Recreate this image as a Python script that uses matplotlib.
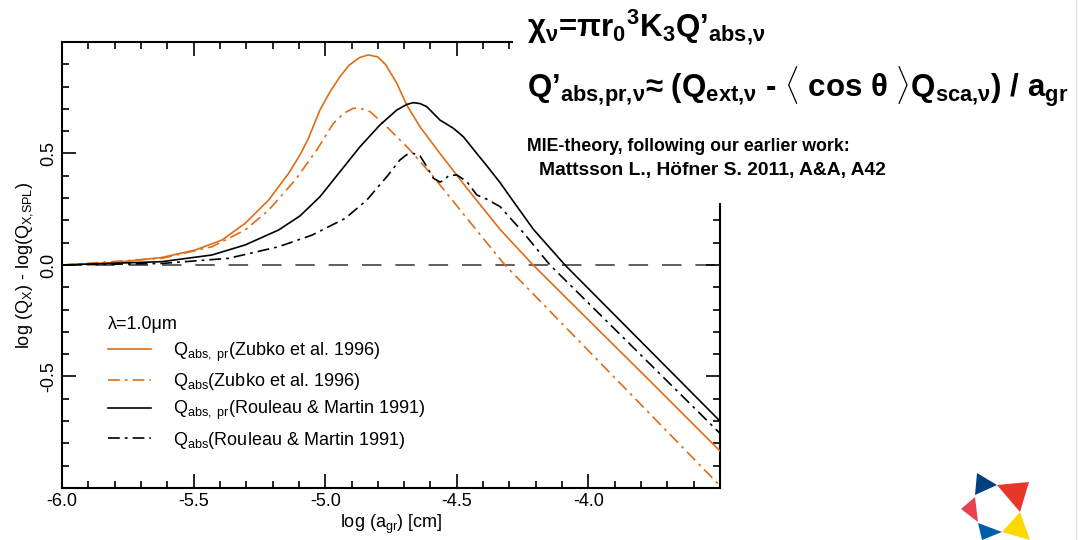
import matplotlib

matplotlib.use("Agg")
import matplotlib.pyplot as plt
from matplotlib.lines import Line2D
from matplotlib.patches import Polygon, Rectangle
from matplotlib.ticker import MultipleLocator

plt.rcParams.update({
    "font.family": ["Liberation Sans", "DejaVu Sans"],
    "mathtext.fontset": "custom",
    "mathtext.rm": "Liberation Sans",
    "mathtext.it": "Liberation Sans",
    "mathtext.bf": "Liberation Sans:bold",
    "axes.unicode_minus": False,
    "lines.scale_dashes": False,
})

# log(a_gr) [cm] vs log(Q_X) - log(Q_X,SPL)
x_zubko_pr = [-6.0, -5.81, -5.62, -5.494, -5.392, -5.304, -5.215, -5.139, -5.096,
              -5.063, -5.020, -4.980, -4.944, -4.91, -4.87, -4.836, -4.80, -4.77,
              -4.728, -4.690, -4.640, -4.564, -4.462, -4.336, -4.21, -4.032, -3.778, -3.5]
y_zubko_pr = [0.0, 0.01, 0.034, 0.067, 0.112, 0.187, 0.291, 0.411, 0.493,
              0.57, 0.695, 0.78, 0.844, 0.895, 0.93, 0.942, 0.933, 0.898,
              0.815, 0.717, 0.620, 0.50, 0.345, 0.16, 0.0, -0.209, -0.506, -0.834]

x_zubko_abs = [-6.0, -5.62, -5.43, -5.304, -5.215, -5.114, -5.032, -4.969, -4.93,
               -4.893, -4.86, -4.830, -4.766, -4.678, -4.589, -4.462, -4.40, -4.317,
               -3.5]
y_zubko_abs = [0.0, 0.03, 0.082, 0.157, 0.246, 0.381, 0.516, 0.635, 0.68,
               0.703, 0.70, 0.688, 0.620, 0.516, 0.396, 0.21, 0.12, 0.0,
               -0.99]

x_rm_pr = [-6.0, -5.62, -5.43, -5.304, -5.177, -5.096, -5.02, -4.944, -4.868,
           -4.792, -4.728, -4.69, -4.665, -4.64, -4.614, -4.564, -4.513, -4.475,
           -4.424, -4.386, -4.336, -4.285, -4.209, -4.089, -3.5]
y_rm_pr = [0.0, 0.015, 0.045, 0.09, 0.157, 0.22, 0.306, 0.418, 0.530,
           0.628, 0.695, 0.72, 0.728, 0.724, 0.71, 0.65, 0.613, 0.575,
           0.50, 0.445, 0.37, 0.285, 0.16, 0.0, -0.70]

x_rm_abs = [-6.0, -5.62, -5.367, -5.177, -5.05, -4.924, -4.842, -4.766, -4.716,
            -4.69, -4.665, -4.64, -4.614, -4.589, -4.564, -4.548, -4.532, -4.50,
            -4.462, -4.424, -4.386, -4.336, -4.247, -4.146, -3.5]
y_rm_abs = [0.0, 0.007, 0.03, 0.082, 0.134, 0.209, 0.291, 0.396, 0.471,
            0.495, 0.50, 0.49, 0.441, 0.389, 0.372, 0.38, 0.40, 0.404,
            0.374, 0.314, 0.295, 0.262, 0.145, 0.0, -0.755]

labels = [
    r"Q$_\mathrm{abs,\ pr}$(Zubko et al. 1996)",
    r"Q$_\mathrm{abs}$(Zubko et al. 1996)",
    r"Q$_\mathrm{abs,\ pr}$(Rouleau & Martin 1991)",
    r"Q$_\mathrm{abs}$(Rouleau & Martin 1991)",
]
xtick_vals = [-6.0, -5.5, -5.0, -4.5, -4.0]
ytick_vals = [-0.5, 0.0, 0.5]

ORANGE = "#DF6D16"
DASHDOT = (8.5, 3.6, 2.0, 3.6)
W, H = 1078, 540

fig = plt.figure(figsize=(W / 100, H / 100), dpi=100)
ax = fig.add_axes([62 / W, 1 - 488 / H, 658 / W, 446 / H])

ax.axhline(0.0, color="#333333", lw=1.1, dashes=(14, 10), zorder=1)
ax.plot(x_zubko_pr, y_zubko_pr, color=ORANGE, lw=1.2, label=labels[0], zorder=4)
ax.plot(x_zubko_abs, y_zubko_abs, color=ORANGE, lw=1.2, dashes=DASHDOT,
        label=labels[1], zorder=4)
ax.plot(x_rm_pr, y_rm_pr, color="black", lw=1.2, label=labels[2], zorder=4)
ax.plot(x_rm_abs, y_rm_abs, color="black", lw=1.2, dashes=DASHDOT,
        label=labels[3], zorder=4)

ax.set_xlim(-6.0, -3.5)
ax.set_ylim(-1.0, 1.0)
ax.set_xticks(xtick_vals)
ax.set_xticklabels([f"{v:.1f}" for v in xtick_vals])
ax.set_yticks(ytick_vals)
ax.set_yticklabels([f"{v:.1f}" for v in ytick_vals])
ax.xaxis.set_minor_locator(MultipleLocator(0.1))
ax.yaxis.set_minor_locator(MultipleLocator(0.1))
ax.tick_params(which="both", direction="in", top=True, right=True, width=1.2,
               labelsize=13)
ax.tick_params(which="major", length=10)
ax.tick_params(which="minor", length=5)
ax.tick_params(axis="y", labelrotation=90)
for lbl in ax.get_yticklabels():
    lbl.set_va("center")
for sp in ax.spines.values():
    sp.set_linewidth(1.5)

ax.set_xlabel(r"log (a$_\mathrm{gr}$) [cm]", fontsize=13, labelpad=2)
ax.set_ylabel(r"log (Q$_\mathrm{X}$) - log(Q$_\mathrm{X{,}SPL}$)", fontsize=13,
              labelpad=4)

ax.legend(loc="upper left", bbox_to_anchor=(0.07, 0.385), frameon=False,
          title="λ=1.0μm", alignment="left", fontsize=13, title_fontsize=13,
          handlelength=2.4, handletextpad=1.2, labelspacing=0.4,
          borderpad=0, borderaxespad=0)

# white panel over the top-right corner of the frame, behind the curves
ax.add_patch(Rectangle((513 / W, 1 - 203 / H), 1 - 513 / W, 203 / H,
                       transform=fig.transFigure, facecolor="white",
                       edgecolor="none", zorder=3, clip_on=False))

fig.text(527 / W, 1 - 27 / H,
         r"χ$_\mathbf{ν}$=πr$_\mathbf{0}$$^\mathbf{3}$K$_\mathbf{3}$Q’$_\mathbf{abs{,}ν}$",
         fontsize=22.5, fontweight="bold", va="center", ha="left")
fig.text(527 / W, 1 - 87 / H,
         r"Q’$_\mathbf{abs{,}pr{,}ν}$≈ (Q$_\mathbf{ext{,}ν}$ - $\mathbf{\langle}$ cos θ "
         r"$\mathbf{\rangle}$Q$_\mathbf{sca{,}ν}$) / a$_\mathbf{gr}$",
         fontsize=22.5, fontweight="bold", va="center", ha="left")
fig.text(527 / W, 1 - 147 / H, "MIE-theory, following our earlier work:",
         fontsize=12.8, fontweight="bold", va="center", ha="left")
fig.text(539 / W, 1 - 170 / H, "Mattsson L., Höfner S. 2011, A&A, A42",
         fontsize=13.9, fontweight="bold", va="center", ha="left")

# logo, bottom right
logo = [
    ("#00407F", [(977, 473), (997, 485), (975, 495)]),
    ("#E8372A", [(997, 485), (1029, 482), (1020, 512)]),
    ("#FFD800", [(1020, 512), (1030, 540), (1002, 532)]),
    ("#005EA8", [(978, 523), (1002, 532), (982, 540)]),
    ("#E8414F", [(975, 497), (961, 509), (978, 522)]),
]
for color, pts in logo:
    fig.add_artist(Polygon([(px / W, 1 - py / H) for px, py in pts],
                           closed=True, transform=fig.transFigure,
                           facecolor=color, edgecolor="none"))
fig.add_artist(Line2D([1076 / W, 1076 / W], [0, 1], transform=fig.transFigure,
                      color="#e4e4e4", lw=1))

fig.savefig("out.png", dpi=100)
